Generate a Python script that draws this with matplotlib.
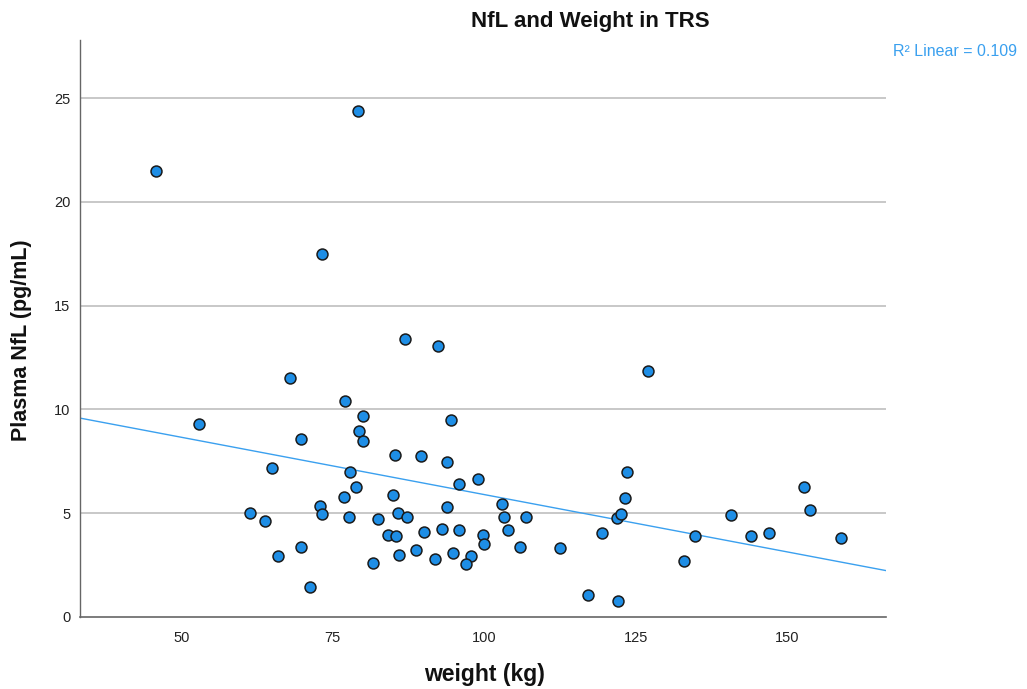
import numpy as np
import matplotlib
matplotlib.use("Agg")
import matplotlib.pyplot as plt

weight = [45.9, 79.1, 53.0, 73.3, 87.0, 92.3, 127.0, 67.9, 77.0, 80.0,
          94.6, 79.4, 80.0, 69.7, 85.2, 89.5, 93.8, 65.0, 77.9, 78.8,
          98.9, 95.9, 123.6, 123.3, 152.8, 153.8, 76.8, 84.9, 72.9, 93.8,
          102.9, 61.4, 73.3, 63.9, 77.7, 82.5, 85.8, 87.2, 103.3, 106.9,
          121.9, 122.6, 140.7, 134.8, 144.0, 147.0, 158.8, 119.4, 84.2, 85.4,
          90.0, 93.1, 95.9, 99.8, 104.0, 99.9, 69.8, 105.9, 112.5, 66.0,
          86.0, 88.8, 94.8, 97.8, 91.9, 97.0, 81.7, 133.0, 71.3, 117.1, 122.1]
nfl = [21.48, 24.4, 9.3, 17.5, 13.4, 13.05, 11.85, 11.5, 10.4, 9.7,
       9.5, 8.96, 8.48, 8.6, 7.8, 7.76, 7.47, 7.2, 7.0, 6.26,
       6.65, 6.4, 6.98, 5.73, 6.26, 5.15, 5.78, 5.88, 5.35, 5.3,
       5.44, 5.0, 4.96, 4.62, 4.82, 4.72, 5.0, 4.82, 4.82, 4.82,
       4.77, 4.96, 4.91, 3.9, 3.9, 4.05, 3.8, 4.05, 3.95, 3.9,
       4.1, 4.24, 4.19, 3.95, 4.19, 3.52, 3.37, 3.37, 3.32, 2.94,
       2.99, 3.23, 3.08, 2.94, 2.79, 2.55, 2.6, 2.7, 1.45, 1.06, 0.77]
x_ticks = [50, 75, 100, 125, 150]
y_ticks = [0, 5, 10, 15, 20, 25]
r2_label = "R\u00b2 Linear = 0.109"

plt.rcParams['font.family'] = ['Liberation Sans', 'DejaVu Sans']

fig = plt.figure(figsize=(10.27, 6.89), dpi=100)
ax = fig.add_axes([80/1027, 72/689, 806/1027, 577/689])
xlim = (33.3, 166.3)
ax.set_xlim(*xlim)
ax.set_ylim(0, 27.8)

for t in y_ticks[1:]:
    ax.axhline(t, color='#c4c4c4', lw=1.3, zorder=0)

w = np.array(weight); n = np.array(nfl)
b, a = np.polyfit(w, n, 1)
xs = np.array(xlim)
ax.plot(xs, a + b * xs, color='#3aa0ef', lw=1.0, zorder=2, clip_on=True)

ax.scatter(w, n, s=62, facecolor='#1e8ee6', edgecolor='#1a1a1a', linewidth=1.1, zorder=3)

for s in ['top', 'right']:
    ax.spines[s].set_visible(False)
ax.spines['left'].set_color('#666666')
ax.spines['bottom'].set_color('#666666')
ax.spines['left'].set_linewidth(1.0)
ax.spines['bottom'].set_linewidth(1.2)

ax.set_xticks(x_ticks)
ax.set_yticks(y_ticks)
ax.tick_params(length=0, labelsize=10.5, colors='#222222')
ax.tick_params(axis='x', pad=10)
ax.tick_params(axis='y', pad=7)

fig.text(590/1027, 1 - 22/689, "NfL and Weight in TRS", ha='center', va='center',
         fontsize=16, fontweight='bold', color='#111111')
fig.text(22/1027, 1 - 340/689, "Plasma NfL (pg/mL)", ha='center', va='center',
         rotation=90, fontsize=15.5, fontweight='bold', color='#111111')
fig.text(484/1027, 1 - 675/689, "weight (kg)", ha='center', va='center',
         fontsize=16.5, fontweight='bold', color='#111111')
fig.text(893/1027, 1 - 52/689, r2_label, ha='left', va='center',
         fontsize=11.5, color='#3aa0ef')

fig.savefig("out.png", dpi=100)
